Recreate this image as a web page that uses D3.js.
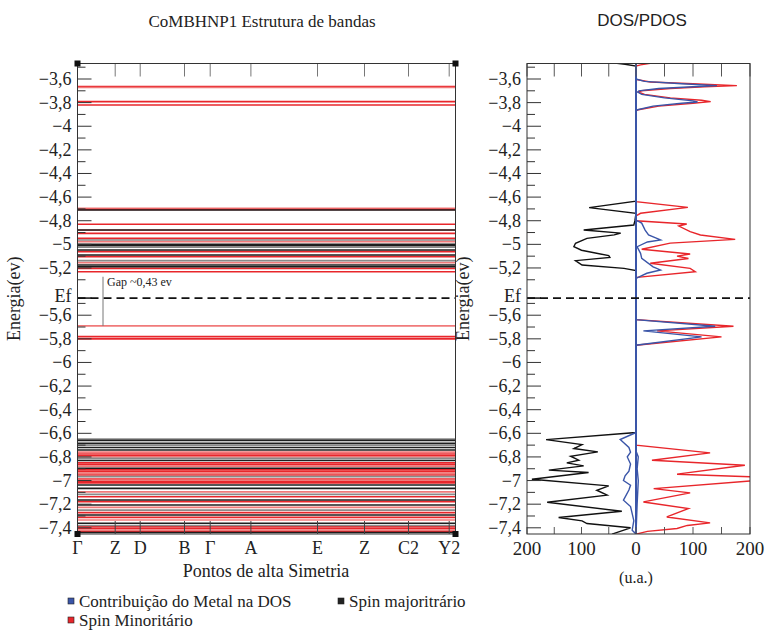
<!DOCTYPE html>
<html>
<head>
<meta charset="utf-8">
<script src="https://cdn.jsdelivr.net/npm/d3@7"></script>
<style>
  body { margin: 0; background: #fff; }
  svg text { font-family: "Liberation Serif", "DejaVu Serif", serif; fill: #222; }
</style>
</head>
<body>
<div id="chart-area"></div>
<script>
// pontos de alta simetria (distancia ao longo do caminho k)
const kLabels = ["Γ", "Z", "D", "B", "Γ", "A", "E", "Z", "C2", "Y2"];
const kDist = [0, 0.377, 0.627, 1.07, 1.327, 1.734, 2.4, 2.87, 3.31, 3.717];
const kEnd = 3.78;

// bandas (energias em eV)
const redBands = [-3.665, -3.672, -3.792, -3.82, -4.695, -4.705, -4.83, -4.879, -4.907, -4.949,
  -4.977, -5.062, -5.104, -5.155, -5.203, -5.232, -5.691, -5.782, -5.80,
  -6.76, -6.775, -6.79, -6.80, -6.85, -6.865, -6.88, -6.91, -6.925, -6.94, -6.953,
  -6.987, -7.0, -7.01, -7.02, -7.095, -7.137, -7.179, -7.227, -7.272, -7.311,
  -7.334, -7.39, -7.405, -7.419, -7.435];
const blackBands = [-4.709, -4.879, -4.963, -5.0, -5.012, -5.025, -5.048, -5.09, -5.138, -5.175,
  -5.19, -6.648, -6.66, -6.685, -6.70, -6.72, -6.741, -6.812, -6.83, -6.896,
  -6.967, -7.038, -7.066, -7.117, -7.165, -7.207, -7.25, -7.292, -7.362, -7.38, -7.44];

const fermi = -5.455;
const yTicks = [-3.6, -3.8, -4, -4.2, -4.4, -4.6, -4.8, -5, -5.2, -5.6, -5.8, -6, -6.2, -6.4, -6.6, -6.8, -7, -7.2, -7.4];

// DOS: [energia, valor]
const spinMaj = [[-3.467, 35], [-3.475, 20], [-3.49, 0], [-4.635, 0], [-4.689, 86], [-4.737, 0],
  [-4.80, 2], [-4.836, 4], [-4.879, 96], [-4.905, 28], [-4.92, 40], [-4.949, 90], [-4.991, 111],
  [-5.02, 114], [-5.05, 100], [-5.096, 50], [-5.11, 48], [-5.138, 111], [-5.175, 99], [-5.203, 22],
  [-5.223, 0], [-6.593, 0], [-6.653, 165], [-6.695, 99], [-6.729, 114], [-6.757, 70], [-6.794, 120],
  [-6.828, 105], [-6.85, 127], [-6.876, 96], [-6.912, 160], [-6.932, 87], [-6.989, 191], [-7.045, 50],
  [-7.082, 72], [-7.124, 53], [-7.184, 163], [-7.26, 26], [-7.313, 142], [-7.341, 99], [-7.364, 90],
  [-7.40, 10], [-7.453, 44]];
const spinMin = [[-3.467, 25], [-3.48, 8], [-3.49, 0], [-3.603, 0], [-3.625, 25], [-3.64, 100],
  [-3.656, 177], [-3.665, 120], [-3.68, 60], [-3.70, 10], [-3.71, 4], [-3.73, 15], [-3.76, 60],
  [-3.78, 115], [-3.792, 131], [-3.805, 100], [-3.83, 40], [-3.86, 4], [-3.87, 0], [-4.639, 0],
  [-4.687, 91], [-4.737, 8], [-4.76, 0], [-4.80, 0], [-4.828, 89], [-4.845, 75], [-4.893, 95],
  [-4.921, 113], [-4.958, 174], [-4.99, 60], [-5.042, 10], [-5.082, 95], [-5.10, 72], [-5.12, 92],
  [-5.16, 25], [-5.203, 95], [-5.231, 104], [-5.279, 2], [-5.29, 0], [-5.637, 0], [-5.693, 171],
  [-5.733, 37], [-5.783, 150], [-5.854, 0], [-6.70, 0], [-6.766, 130], [-6.828, 28], [-6.87, 191],
  [-6.946, 72], [-6.969, 205], [-7.0, 210], [-7.068, 31], [-7.104, 95], [-7.181, 13], [-7.237, 92],
  [-7.308, 54], [-7.358, 130], [-7.38, 90], [-7.406, 72], [-7.43, 20], [-7.453, 0]];
const metalMin = [[-3.60, 0], [-3.62, 15], [-3.64, 80], [-3.656, 142], [-3.665, 100], [-3.68, 40],
  [-3.70, 5], [-3.71, 3], [-3.73, 10], [-3.76, 50], [-3.785, 100], [-3.795, 108], [-3.805, 80],
  [-3.83, 30], [-3.86, 3], [-3.87, 0], [-4.794, 0], [-4.82, 10], [-4.879, 16], [-4.921, 22],
  [-4.963, 43], [-4.98, 20], [-5.02, 2], [-5.076, 8], [-5.118, 10], [-5.19, 30], [-5.217, 43],
  [-5.245, 19], [-5.288, 0], [-5.637, 0], [-5.693, 139], [-5.733, 13], [-5.783, 115], [-5.854, 0],
  [-6.75, 0], [-6.80, 4], [-6.90, 2], [-7.0, 4], [-7.2, 2], [-7.453, 0]];
const metalMaj = [[-6.593, 0], [-6.653, 29], [-6.72, 13], [-6.76, 10], [-6.80, 16], [-6.86, 10],
  [-6.92, 13], [-6.96, 20], [-7.0, 23], [-7.04, 10], [-7.08, 13], [-7.166, 23], [-7.22, 10],
  [-7.34, 4], [-7.42, 7], [-7.453, 0]];
const dosTicks = [-200, -150, -100, -50, 0, 50, 100, 150, 200];

const svg = d3.select("#chart-area").append("svg")
  .attr("width", 765).attr("height", 631);

const yTop = 63.5, yBot = 534;
const y = d3.scaleLinear().domain([-3.6, -7.4]).range([79, 527.8]);
const x = d3.scaleLinear().domain([0, kEnd]).range([77.5, 455.5]);
const xd = d3.scaleLinear().domain([-200, 0, 200]).range([527, 636, 750]);

const fmt = v => d3.format(".1f")(v).replace(".0", "").replace(".", ",");

const defs = svg.append("defs");
defs.append("clipPath").attr("id", "clipL")
  .append("rect").attr("x", 77.5).attr("y", yTop).attr("width", 378).attr("height", yBot - yTop);
defs.append("clipPath").attr("id", "clipR")
  .append("rect").attr("x", 527).attr("y", yTop).attr("width", 223).attr("height", yBot - yTop);

// ---------- painel esquerdo: estrutura de bandas ----------
const gL = svg.append("g");
const bands = gL.append("g").attr("clip-path", "url(#clipL)");
bands.selectAll("line.red").data(redBands).enter().append("line")
  .attr("x1", x(0)).attr("x2", x(kEnd))
  .attr("y1", d => y(d)).attr("y2", d => y(d))
  .attr("stroke", (d, i) => i % 3 === 1 ? "#f07a7a" : "#e8262b")
  .attr("stroke-width", 1.7);
bands.selectAll("line.black").data(blackBands).enter().append("line")
  .attr("x1", x(0)).attr("x2", x(kEnd))
  .attr("y1", d => y(d)).attr("y2", d => y(d))
  .attr("stroke", (d, i) => i % 3 === 2 ? "#8a8a8a" : "#1e1e1e")
  .attr("stroke-width", 1.6);

// linha de Fermi
gL.append("line").attr("x1", x(0)).attr("x2", x(kEnd))
  .attr("y1", y(fermi)).attr("y2", y(fermi))
  .attr("stroke", "#111").attr("stroke-width", 1.6).attr("stroke-dasharray", "8,5");

// gap
gL.append("line").attr("x1", 103).attr("x2", 103)
  .attr("y1", y(-5.232) + 5).attr("y2", y(-5.691))
  .attr("stroke", "#777").attr("stroke-width", 1);
gL.append("text").attr("x", 107).attr("y", 286).attr("font-size", 12).text("Gap ~0,43 ev");

function drawYAxis(g, x0) {
  const minor = d3.range(-3.5, -7.45, -0.1).filter(v => Math.abs(v + 5.4) > 0.01);
  g.selectAll("line.mt").data(minor).enter().append("line")
    .attr("x1", x0).attr("x2", d => yTicks.some(t => Math.abs(t - d) < 0.01) ? x0 + 14 : x0 + 8)
    .attr("y1", d => y(d)).attr("y2", d => y(d))
    .attr("stroke", "#333").attr("stroke-width", 1);
  g.selectAll("text.tl").data(yTicks).enter().append("text")
    .attr("x", x0 - 6).attr("y", d => y(d) + 6)
    .attr("text-anchor", "end").attr("font-size", 18)
    .text(fmt);
  g.append("line").attr("x1", x0).attr("x2", x0 + 14)
    .attr("y1", y(fermi)).attr("y2", y(fermi)).attr("stroke", "#111").attr("stroke-width", 1.5);
  g.append("text").attr("x", x0 - 6).attr("y", y(fermi) + 4)
    .attr("text-anchor", "end").attr("font-size", 18).text("Ef");
  g.append("text")
    .attr("transform", `translate(${x0 - 58}, ${(yTop + yBot) / 2}) rotate(-90)`)
    .attr("text-anchor", "middle").attr("font-size", 18).text("Energia(ev)");
}

drawYAxis(gL, 77.5);

// ticks dos pontos k
gL.selectAll("line.kt").data(kDist).enter().append("line")
  .attr("x1", d => x(d)).attr("x2", d => x(d))
  .attr("y1", yTop).attr("y2", yTop + 13).attr("stroke", "#777");
gL.selectAll("line.kb").data(kDist).enter().append("line")
  .attr("x1", d => x(d)).attr("x2", d => x(d))
  .attr("y1", yBot).attr("y2", yBot - 13).attr("stroke", "#444");
gL.selectAll("text.kl").data(kLabels).enter().append("text")
  .attr("x", (d, i) => x(kDist[i]))
  .attr("y", 554).attr("text-anchor", "middle").attr("font-size", 18)
  .text(d => d);

gL.append("rect").attr("x", 77.5).attr("y", yTop).attr("width", 378).attr("height", yBot - yTop)
  .attr("fill", "none").attr("stroke", "#333").attr("stroke-width", 1);
[[77.5, yTop], [455.5, yTop], [77.5, yBot], [455.5, yBot]].forEach(p => {
  gL.append("rect").attr("x", p[0] - 3).attr("y", p[1] - 3).attr("width", 6).attr("height", 6).attr("fill", "#111");
});

svg.append("text").attr("x", 262).attr("y", 27).attr("text-anchor", "middle")
  .attr("font-size", 17).text("CoMBHNP1 Estrutura de bandas");
svg.append("text").attr("x", 266).attr("y", 577).attr("text-anchor", "middle")
  .attr("font-size", 18).text("Pontos de alta Simetria");

// ---------- painel direito: DOS/PDOS ----------
const gR = svg.append("g");
const curves = gR.append("g").attr("clip-path", "url(#clipR)");
const lineL = d3.line().x(d => xd(-d[1])).y(d => y(d[0]));
const lineR = d3.line().x(d => xd(d[1])).y(d => y(d[0]));

curves.append("path").datum(spinMaj).attr("d", lineL)
  .attr("fill", "none").attr("stroke", "#111").attr("stroke-width", 1.4);
curves.append("path").datum(spinMin).attr("d", lineR)
  .attr("fill", "none").attr("stroke", "#e8262b").attr("stroke-width", 1.4);
curves.append("path").datum(metalMin).attr("d", lineR)
  .attr("fill", "none").attr("stroke", "#3a55a8").attr("stroke-width", 1.4);
curves.append("path").datum(metalMaj).attr("d", lineL)
  .attr("fill", "none").attr("stroke", "#3a55a8").attr("stroke-width", 1.4);
curves.append("line").attr("x1", xd(0)).attr("x2", xd(0)).attr("y1", yTop).attr("y2", yBot)
  .attr("stroke", "#3a55a8").attr("stroke-width", 2);

gR.append("line").attr("x1", 527).attr("x2", 750)
  .attr("y1", y(fermi)).attr("y2", y(fermi))
  .attr("stroke", "#111").attr("stroke-width", 1.6).attr("stroke-dasharray", "8,5");

drawYAxis(gR, 527);

gR.selectAll("line.dt").data(dosTicks).enter().append("line")
  .attr("x1", d => xd(d)).attr("x2", d => xd(d))
  .attr("y1", yTop).attr("y2", yTop + 13).attr("stroke", "#555");
gR.selectAll("line.db").data(dosTicks).enter().append("line")
  .attr("x1", d => xd(d)).attr("x2", d => xd(d))
  .attr("y1", yBot).attr("y2", yBot - 7).attr("stroke", "#555");
gR.selectAll("text.dl").data(dosTicks.filter(d => d % 100 === 0)).enter().append("text")
  .attr("x", d => xd(d)).attr("y", 555).attr("text-anchor", "middle").attr("font-size", 19)
  .text(d => Math.abs(d));

gR.append("rect").attr("x", 527).attr("y", yTop).attr("width", 223).attr("height", yBot - yTop)
  .attr("fill", "none").attr("stroke", "#333").attr("stroke-width", 1);

svg.append("text").attr("x", 642).attr("y", 26).attr("text-anchor", "middle")
  .attr("font-size", 17).style("font-family", "'Liberation Sans', Arial, sans-serif").text("DOS/PDOS");
svg.append("text").attr("x", 636).attr("y", 583).attr("text-anchor", "middle")
  .attr("font-size", 16).text("(u.a.)");

// ---------- legenda ----------
const legend = [
  { label: "Contribuição do Metal na DOS", color: "#3a55a8", x: 68, y: 601 },
  { label: "Spin majoritrário", color: "#222", x: 338, y: 601 },
  { label: "Spin Minoritário", color: "#e8262b", x: 68, y: 620 }
];
const lg = svg.append("g").selectAll("g").data(legend).enter().append("g");
lg.append("rect").attr("x", d => d.x).attr("y", d => d.y - 3).attr("width", 6).attr("height", 6)
  .attr("fill", d => d.color).attr("stroke", "#222").attr("stroke-width", 0.6);
lg.append("text").attr("x", d => d.x + 11).attr("y", d => d.y + 6).attr("font-size", 17)
  .text(d => d.label);
</script>
</body>
</html>
